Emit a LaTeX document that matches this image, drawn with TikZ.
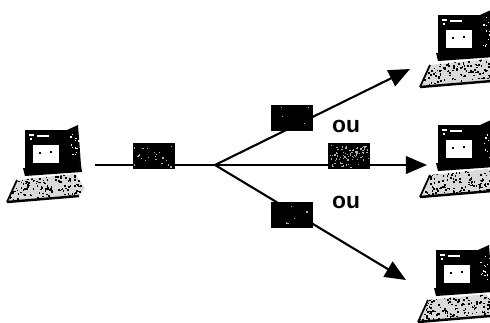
\documentclass[tikz,border=0pt]{standalone}
\usepackage{fontspec}
\setmainfont{Liberation Sans}
\usetikzlibrary{arrows.meta}
\begin{document}
\begin{tikzpicture}[x=0.02cm,y=-0.02cm,
  wire/.style={line width=1.2pt,black},
  tip/.style={-{Triangle[length=12pt,width=10pt]}},
  blk/.style={fill=black,minimum width=0.84cm,minimum height=0.52cm,inner sep=0pt},
  lbl/.style={font=\bfseries\fontsize{13}{14}\selectfont,inner sep=0pt},
  computer/.pic={
    % side of the monitor
    \fill[black] (42,0) -- (53,-5) -- (56,35) -- (42,40) -- cycle;
    \foreach \k in {1,...,14} {\fill[white] (44+10*rnd,2+32*rnd) rectangle ++(1.2,1.2);}
    % front bezel and screen
    \fill[black] (0,0) rectangle (42,38);
    \fill[white] (8,15) rectangle (34,33);
    \fill[white] (4,4) rectangle (9,5.5);
    \fill[white] (12,5) rectangle (24,6.5);
    \fill[white] (5,8) rectangle (7,10);
    \fill[black] (14,22) rectangle ++(2,2);
    \fill[black] (25,21) rectangle ++(2,2);
    % base under the monitor
    \fill[black] (-2,38) -- (44,38) -- (56,35) -- (57,42) -- (0,46) -- cycle;
    % keyboard
    \begin{scope}
      \clip (-18,72) -- (-8,50) -- (50,44) -- (60,58) -- (54,66) -- cycle;
      \fill[black!15] (-20,40) rectangle (62,75);
      \foreach \k in {1,...,170} {\fill (-18+78*rnd,44+28*rnd) rectangle ++(1.6,1.6);}
    \end{scope}
    \draw[line width=1.4pt] (-18,72) -- (54,66);
    \draw[line width=1pt] (-18,72) -- (-8,50);
  },
  specks/.pic={
    \foreach \k in {1,...,#1} {\fill[white!70!black] (-20+39*rnd,-12+23*rnd) rectangle ++(1.3,1.3);}
  }]
\pgfmathsetseed{11}
\useasboundingbox (0,0) rectangle (490,322);

% workstations
\pic at (25,130) {computer};
\pic at (438,15) {computer};
\pic at (438,125) {computer};
\pic at (436,250) {computer};

% connection points
\coordinate (s0) at (95,165);
\coordinate (br) at (215,165);
\coordinate (t1) at (410,69);
\coordinate (t2) at (427,165);
\coordinate (t3) at (406,280);

% links
\draw[wire] (s0) -- (br);
\draw[wire,tip] (br) -- (t1);
\draw[wire,tip] (br) -- (t2);
\draw[wire,tip] (br) -- (t3);

% packets on the links
\node[blk] (b0) at (154,156) {};
\node[blk] (b1) at (292,118) {};
\node[blk] (b2) at (349,156) {};
\node[blk] (b3) at (292,215) {};
\pic at (b0) {specks=22};
\pic at (b1) {specks=4};
\pic at (b2) {specks=90};
\pic at (b3) {specks=5};

% alternatives
\node[lbl] (o1) at (346,126) {ou};
\node[lbl] (o2) at (346,202) {ou};
\end{tikzpicture}
\end{document}
